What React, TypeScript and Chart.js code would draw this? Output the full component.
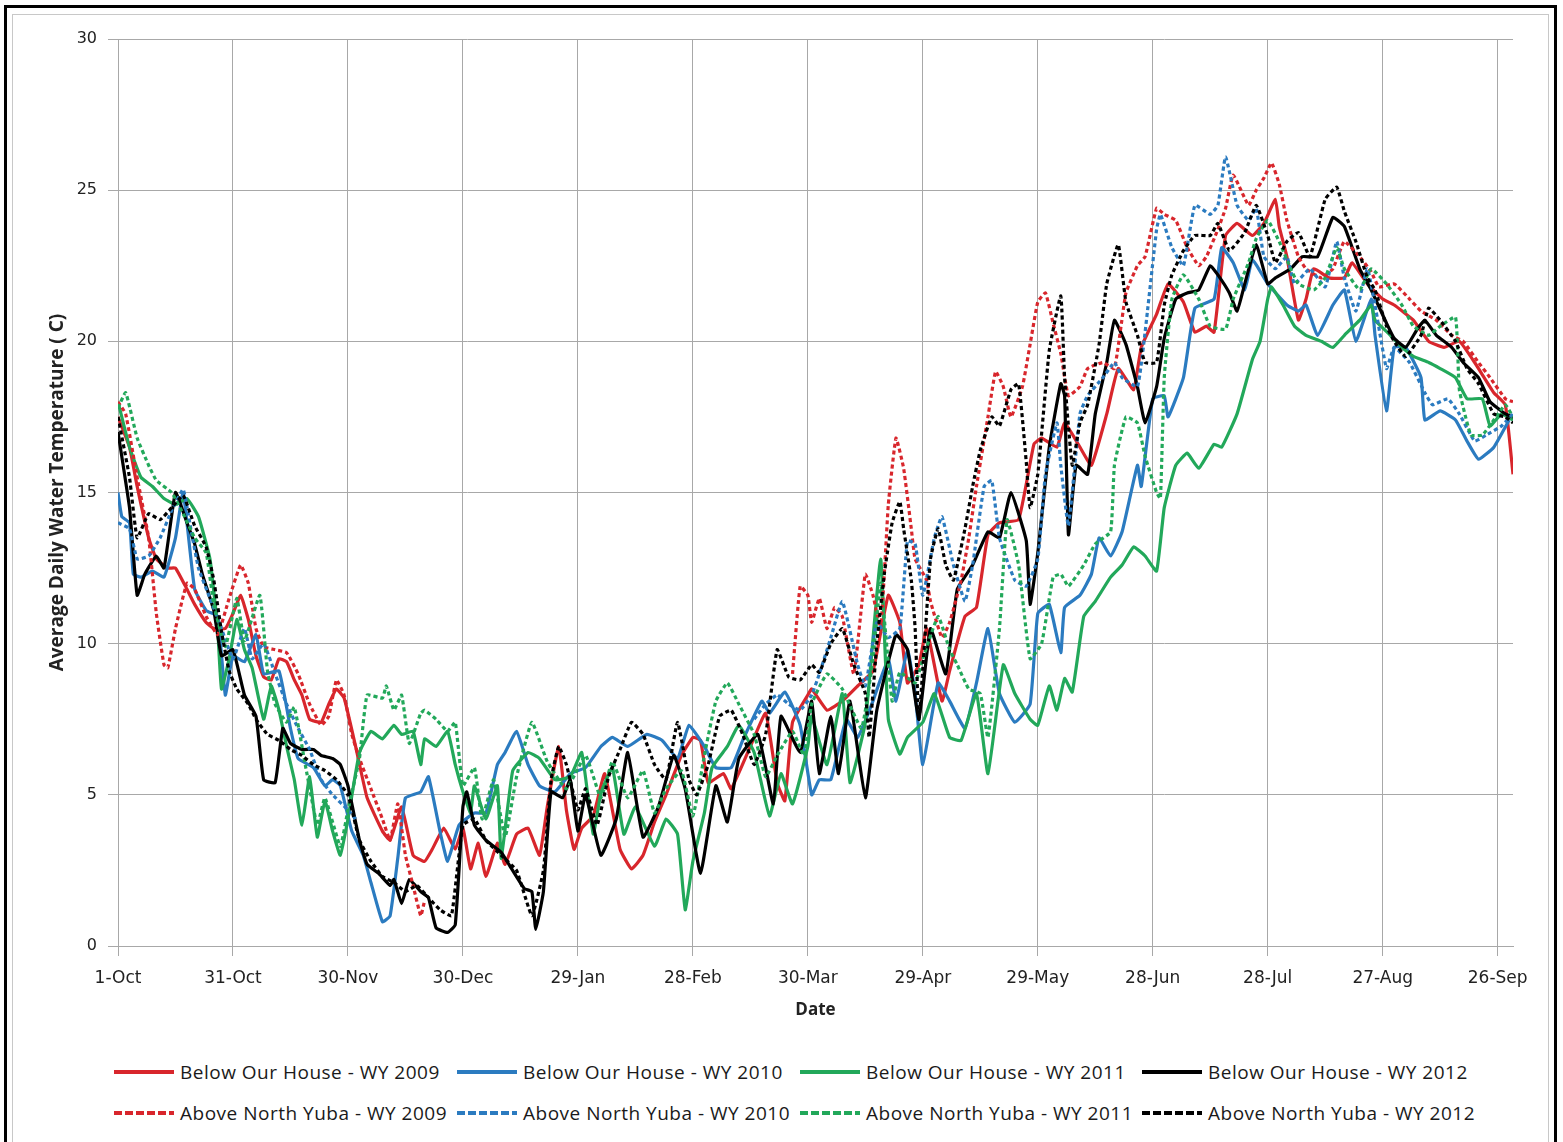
import React, { useEffect, useRef } from "react";
import { Chart, registerables } from "chart.js";

Chart.register(...registerables);

type P = [number, number | null];

const TICK_DAYS = [0, 30, 60, 90, 120, 150, 180, 210, 240, 270, 300, 330, 360];
const TICK_LABELS = ["1-Oct", "31-Oct", "30-Nov", "30-Dec", "29-Jan", "28-Feb", "30-Mar", "29-Apr", "29-May", "28-Jun", "28-Jul", "27-Aug", "26-Sep"];

const belowWY2009: P[] = [
  [0, 17.5], [3, 16.5], [5, 15.2], [8, 13.5], [10, 12.8], [13, 12.5], [15, 12.5], [18, 11.8], [20, 11.3], [23, 10.7], [25, 10.5], [28, 10.5], [30, 11.0], [32, 11.6], [34, 10.8], [36, 9.6], [38, 8.9], [40, 8.8], [42, 9.5], [44, 9.4], [46, 8.8], [48, 8.3], [50, 7.5], [53, 7.4], [55, 8.0], [57, 8.5], [59, 8.2], [62, 6.6], [65, 4.9], [69, 3.8], [71, 3.5], [74, 4.6], [77, 3.0], [80, 2.8], [82, 3.2], [85, 3.9], [88, 3.2], [90, 3.9], [92, 2.55], [94, 3.4], [96, 2.3], [99, 3.4], [101, 2.7], [104, 3.7], [107, 3.9], [110, 3.0], [112, 4.6], [115, 6.6], [117, 4.5], [119, 3.2], [121, 3.9], [124, 4.3], [127, 5.7], [131, 3.2], [134, 2.55], [137, 3.0], [140, 4.1], [143, 5.0], [147, 6.3], [150, 6.9], [152, 6.8], [154, 5.4], [158, 5.7], [160, 5.2], [165, 6.6], [169, 7.7], [172, 5.4], [174, 4.8], [176, 7.4], [180, 8.3], [181, 8.5], [185, 7.8], [189, 8.1], [193, 8.6], [197, 9.1], [201, 11.6], [204, 10.7], [206, 8.7], [209, 9.3], [211, 10.5], [215, 8.1], [217, 9.1], [221, 10.9], [224, 11.2], [227, 13.6], [230, 14.0], [235, 14.1], [239, 16.6], [241, 16.8], [245, 16.5], [247, 17.3], [251, 16.5], [254, 15.9], [258, 17.6], [261, 19.1], [265, 18.4], [267, 19.8], [271, 20.9], [274, 21.9], [278, 21.3], [281, 20.3], [284, 20.5], [286, 20.3], [289, 23.5], [292, 23.9], [296, 23.5], [299, 23.9], [302, 24.7], [303, 23.8], [305, 22.8], [308, 20.7], [310, 21.4], [312, 22.4], [316, 22.1], [320, 22.1], [322, 22.6], [326, 21.9], [330, 21.4], [333, 21.2], [338, 20.7], [342, 20.0], [346, 19.8], [350, 20.0], [354, 19.3], [359, 18.3], [362, 17.9], [364, 15.6],
];

const belowWY2010: P[] = [
  [0, 15.0], [1, 14.2], [3, 14.0], [4, 12.3], [6, 12.2], [9, 12.4], [12, 12.2], [15, 13.5], [17, 15.0], [20, 11.8], [23, 11.1], [26, 10.9], [28, 8.3], [30, 9.6], [33, 9.4], [36, 10.3], [38, 9.0], [42, 9.1], [45, 7.2], [47, 6.2], [51, 5.9], [54, 5.3], [56, 5.5], [58, 5.3], [61, 3.8], [64, 3.0], [66, 2.1], [69, 0.8], [71, 1.0], [73, 2.9], [75, 4.9], [79, 5.1], [81, 5.6], [84, 3.8], [86, 2.8], [89, 4.0], [93, 4.4], [96, 4.4], [99, 6.0], [101, 6.4], [104, 7.1], [107, 6.0], [110, 5.3], [114, 5.1], [118, 5.7], [122, 5.9], [126, 6.6], [129, 6.9], [133, 6.6], [138, 7.0], [142, 6.8], [146, 6.2], [149, 7.3], [153, 6.6], [156, 5.9], [160, 5.9], [163, 6.8], [168, 8.1], [170, 7.7], [174, 8.4], [178, 7.3], [181, 5.0], [183, 5.5], [186, 5.5], [190, 7.5], [193, 6.9], [197, 8.1], [201, 9.5], [203, 8.1], [206, 9.8], [208, 8.35], [210, 6.0], [214, 8.7], [217, 8.1], [221, 7.2], [224, 8.7], [227, 10.5], [230, 8.35], [234, 7.4], [238, 8.0], [240, 11.0], [243, 11.3], [246, 9.7], [247, 11.2], [251, 11.6], [254, 12.3], [256, 13.5], [259, 12.9], [262, 13.7], [266, 15.9], [267, 15.2], [270, 18.1], [273, 18.2], [274, 17.5], [278, 18.8], [281, 21.1], [286, 21.4], [288, 23.1], [291, 22.6], [294, 21.7], [296, 22.7], [300, 21.9], [305, 21.2], [308, 21.0], [310, 21.2], [313, 20.2], [317, 21.2], [320, 21.7], [323, 20.0], [327, 21.4], [328, 20.2], [331, 17.7], [333, 19.8], [336, 19.8], [340, 18.8], [341, 17.4], [345, 17.7], [349, 17.4], [352, 16.7], [355, 16.1], [359, 16.5], [363, 17.4],
];

const belowWY2011: P[] = [
  [0, 18.0], [3, 16.5], [6, 15.5], [9, 15.2], [12, 14.8], [15, 14.6], [18, 14.8], [21, 14.2], [24, 12.8], [26, 10.5], [27, 8.5], [29, 9.5], [31, 10.8], [33, 9.8], [35, 9.2], [38, 7.5], [40, 8.6], [42, 7.8], [44, 6.6], [46, 5.5], [48, 4.0], [50, 5.6], [52, 3.6], [54, 4.8], [56, 3.8], [58, 3.0], [60, 4.2], [63, 6.4], [66, 7.1], [69, 6.85], [72, 7.3], [74, 7.0], [77, 7.1], [79, 6.0], [80, 6.85], [83, 6.6], [86, 7.1], [88, 6.0], [90, 5.1], [92, 4.4], [93, 5.3], [96, 4.2], [99, 5.3], [100, 2.9], [103, 5.8], [107, 6.4], [110, 6.2], [114, 5.5], [118, 5.6], [121, 6.4], [124, 3.7], [126, 5.05], [129, 5.9], [132, 3.7], [135, 4.6], [140, 3.3], [143, 4.2], [146, 3.7], [148, 1.2], [150, 2.8], [153, 4.4], [155, 5.9], [159, 6.6], [162, 7.3], [166, 6.4], [170, 4.3], [173, 5.7], [176, 4.7], [180, 6.6], [181, 7.6], [185, 6.0], [189, 8.35], [191, 5.4], [195, 7.4], [199, 12.8], [201, 7.5], [204, 6.35], [206, 6.9], [210, 7.4], [213, 8.35], [217, 6.9], [220, 6.8], [224, 8.35], [227, 5.7], [231, 9.3], [234, 8.35], [238, 7.5], [240, 7.3], [243, 8.6], [245, 7.8], [247, 8.85], [249, 8.4], [252, 10.9], [255, 11.4], [259, 12.2], [262, 12.6], [265, 13.2], [268, 12.9], [271, 12.4], [273, 14.5], [276, 15.9], [279, 16.3], [282, 15.8], [286, 16.6], [288, 16.5], [292, 17.6], [296, 19.4], [298, 20.0], [300, 21.4], [301, 21.8], [304, 21.2], [307, 20.5], [310, 20.2], [314, 20.0], [317, 19.8], [320, 20.2], [324, 20.7], [327, 21.2], [328, 20.7], [332, 20.2], [335, 19.8], [338, 19.5], [342, 19.3], [345, 19.1], [349, 18.8], [352, 18.1], [356, 18.1], [358, 17.2], [361, 17.6], [364, 17.4],
];

const belowWY2012: P[] = [
  [0, 17.0], [3, 14.5], [5, 11.6], [7, 12.3], [10, 12.9], [12, 12.5], [15, 15.0], [18, 14.0], [20, 13.3], [22, 12.3], [25, 11.1], [27, 9.6], [30, 9.8], [33, 8.3], [36, 7.6], [38, 5.5], [41, 5.4], [43, 7.2], [45, 6.7], [48, 6.5], [51, 6.5], [53, 6.3], [56, 6.2], [58, 6.0], [60, 5.3], [63, 3.5], [65, 2.7], [68, 2.4], [71, 2.0], [72, 2.2], [74, 1.4], [76, 2.2], [79, 1.8], [81, 1.6], [83, 0.6], [86, 0.45], [88, 0.7], [90, 4.6], [91, 5.1], [93, 4.0], [96, 3.5], [100, 3.1], [102, 2.7], [106, 1.9], [108, 1.8], [109, 0.55], [111, 1.8], [113, 5.1], [116, 4.9], [118, 5.5], [120, 3.8], [122, 5.0], [126, 3.0], [130, 4.2], [133, 6.4], [137, 3.6], [141, 4.6], [145, 6.3], [148, 5.2], [152, 2.4], [156, 5.3], [159, 4.1], [162, 6.2], [167, 7.0], [171, 4.7], [173, 7.6], [178, 6.4], [181, 8.1], [183, 5.7], [186, 7.6], [188, 5.7], [191, 8.1], [195, 4.9], [198, 7.8], [203, 10.3], [206, 9.8], [209, 7.5], [212, 10.5], [216, 9.0], [219, 11.8], [223, 12.6], [227, 13.7], [230, 13.5], [233, 15.0], [237, 13.4], [238, 11.3], [240, 13.0], [243, 16.5], [246, 18.6], [247, 18.2], [248, 13.6], [250, 15.9], [253, 15.6], [255, 17.6], [258, 19.3], [260, 20.7], [263, 19.9], [266, 18.5], [268, 17.3], [271, 18.5], [273, 20.1], [276, 21.4], [279, 21.6], [282, 21.7], [285, 22.5], [287, 22.2], [290, 21.6], [292, 21.0], [294, 21.9], [297, 23.2], [300, 21.9], [302, 22.1], [306, 22.4], [309, 22.8], [313, 22.8], [317, 24.1], [320, 23.8], [324, 22.4], [327, 21.7], [331, 20.6], [333, 20.1], [336, 19.8], [339, 20.4], [341, 20.7], [344, 20.2], [348, 19.8], [351, 19.3], [355, 18.8], [358, 18.0], [362, 17.6], [364, 17.5],
];

const aboveWY2009: P[] = [
  [0, 18.0], [2, 17.6], [5, 15.5], [8, 13.5], [10, 11.0], [12, 9.3], [13, 9.2], [15, 10.5], [18, 12.0], [20, 11.8], [23, 10.9], [26, 10.3], [29, 11.5], [32, 12.6], [34, 12.0], [36, 10.5], [38, 9.9], [41, 9.8], [44, 9.7], [47, 9.0], [50, 8.0], [53, 7.3], [55, 7.6], [57, 8.8], [59, 8.3], [61, 7.0], [63, 6.2], [66, 5.2], [69, 4.2], [71, 3.5], [73, 4.7], [75, 3.0], [77, 2.0], [79, 1.0], [80, 1.5], [120, null],
  [176, 9.0], [178, 11.9], [180, 11.6], [181, 10.7], [183, 11.5], [185, 10.5], [187, 11.2], [189, 10.9], [192, 9.0], [195, 12.3], [197, 11.6], [199, 10.5], [201, 14.6], [203, 16.8], [205, 15.8], [207, 13.8], [208, 12.8], [211, 12.1], [212, 11.4], [215, 10.2], [217, 10.7], [220, 12.1], [222, 13.5], [224, 15.2], [227, 17.5], [229, 19.0], [231, 18.5], [233, 17.5], [236, 18.5], [238, 19.9], [240, 21.3], [242, 21.6], [244, 20.6], [246, 19.6], [248, 18.2], [251, 18.5], [253, 19.1], [257, 19.3], [260, 19.1], [263, 21.6], [266, 22.5], [268, 22.8], [271, 24.4], [273, 24.2], [276, 24.0], [279, 23.1], [282, 22.5], [284, 22.8], [287, 23.7], [289, 24.4], [291, 25.5], [295, 24.5], [297, 25.0], [299, 25.4], [301, 25.9], [303, 25.2], [305, 24.0], [308, 22.8], [310, 22.4], [314, 22.1], [317, 22.4], [320, 23.3], [324, 22.8], [327, 22.3], [329, 21.8], [333, 21.9], [337, 21.4], [340, 21.0], [344, 20.7], [348, 20.2], [351, 20.0], [355, 19.3], [358, 18.8], [362, 18.1], [364, 18.0],
];

const aboveWY2010: P[] = [
  [0, 14.0], [3, 13.8], [5, 12.8], [8, 12.9], [11, 13.5], [14, 14.4], [17, 15.1], [19, 13.8], [21, 12.5], [24, 11.5], [27, 10.5], [30, 9.5], [33, 10.5], [35, 9.5], [38, 10.0], [41, 9.0], [44, 8.0], [47, 7.2], [50, 6.5], [53, 5.5], [56, 5.0], [60, 4.5], [62, 4.2], [110, null],
  [166, 7.5], [169, 8.0], [172, 8.3], [175, 8.0], [178, 7.8], [181, 8.3], [183, 9.0], [186, 10.2], [189, 11.4], [193, 9.3], [195, 8.6], [198, 10.7], [201, 10.2], [204, 10.5], [206, 13.4], [208, 13.3], [210, 11.6], [213, 13.5], [215, 14.2], [218, 12.6], [221, 11.4], [223, 12.6], [226, 15.2], [228, 15.4], [230, 13.5], [234, 12.1], [237, 11.9], [240, 12.8], [242, 15.6], [245, 17.3], [246, 15.9], [248, 13.9], [251, 17.6], [253, 18.2], [257, 18.8], [260, 19.3], [262, 18.8], [266, 18.5], [268, 20.3], [271, 23.7], [272, 24.2], [275, 23.1], [278, 22.5], [281, 24.5], [285, 24.2], [287, 24.5], [289, 26.1], [292, 24.5], [295, 24.0], [297, 24.4], [299, 22.8], [302, 22.4], [305, 22.8], [307, 21.9], [311, 22.4], [315, 21.8], [318, 23.3], [320, 22.1], [323, 21.0], [326, 22.4], [328, 21.2], [331, 19.1], [333, 19.8], [337, 19.3], [341, 18.3], [343, 17.9], [347, 18.1], [350, 17.6], [354, 16.7], [357, 16.9], [361, 17.2], [364, 17.6],
];

const aboveWY2011: P[] = [
  [0, 17.8], [2, 18.3], [5, 16.8], [8, 15.9], [10, 15.4], [14, 15.0], [17, 14.3], [20, 13.5], [23, 13.0], [25, 11.3], [28, 9.9], [31, 11.5], [33, 10.1], [37, 11.6], [39, 9.1], [41, 8.0], [44, 7.4], [46, 7.9], [49, 5.9], [52, 4.0], [54, 4.9], [58, 3.3], [60, 4.5], [63, 6.2], [65, 8.3], [69, 8.2], [70, 8.6], [72, 7.8], [74, 8.3], [76, 6.7], [79, 7.7], [80, 7.8], [83, 7.5], [86, 7.1], [88, 7.4], [90, 5.3], [93, 5.9], [95, 4.2], [98, 5.5], [101, 3.6], [104, 5.6], [108, 7.4], [112, 6.1], [117, 5.2], [122, 6.3], [126, 4.9], [129, 6.1], [133, 4.9], [137, 5.8], [140, 4.4], [143, 5.2], [147, 5.8], [150, 4.3], [153, 6.3], [156, 8.1], [159, 8.7], [162, 8.0], [166, 7.0], [169, 5.6], [172, 6.3], [176, 7.1], [179, 6.3], [181, 8.0], [185, 9.0], [189, 8.5], [194, 7.2], [197, 9.5], [199, 12.0], [202, 8.1], [204, 9.05], [208, 8.7], [210, 9.5], [214, 10.9], [217, 9.8], [219, 9.3], [222, 8.5], [225, 8.35], [227, 6.9], [230, 10.5], [232, 14.1], [235, 12.6], [238, 9.5], [241, 10.0], [244, 12.2], [246, 12.3], [248, 11.9], [252, 12.6], [255, 13.3], [259, 13.7], [260, 15.9], [263, 17.5], [266, 17.3], [268, 16.2], [271, 15.0], [272, 14.8], [273, 18.8], [275, 21.4], [278, 22.2], [282, 21.4], [285, 20.5], [289, 20.4], [291, 21.4], [295, 22.6], [297, 23.4], [300, 24.0], [303, 23.3], [306, 22.4], [308, 21.9], [312, 21.7], [315, 22.1], [318, 23.1], [320, 22.4], [324, 21.7], [327, 22.4], [331, 21.9], [335, 21.2], [338, 20.5], [342, 20.2], [345, 20.5], [349, 20.8], [350, 18.4], [353, 16.9], [356, 16.9], [359, 17.4], [362, 17.9], [364, 17.5],
];

const aboveWY2012: P[] = [
  [0, 17.5], [3, 15.5], [5, 13.5], [8, 14.3], [11, 14.1], [14, 14.5], [17, 14.9], [20, 13.9], [23, 13.2], [25, 12.1], [27, 10.4], [29, 9.1], [31, 8.5], [34, 8.0], [36, 7.5], [39, 7.0], [42, 6.8], [45, 6.5], [48, 6.3], [51, 6.0], [54, 5.8], [57, 5.5], [60, 5.0], [63, 3.5], [66, 2.8], [69, 2.3], [72, 2.1], [75, 1.8], [78, 2.0], [81, 1.6], [84, 1.2], [87, 1.0], [90, 4.0], [93, 4.2], [96, 3.5], [100, 3.0], [104, 2.5], [108, 1.0], [111, 2.5], [113, 5.5], [115, 6.6], [117, 6.0], [120, 4.5], [122, 5.2], [125, 4.0], [128, 5.6], [131, 6.5], [134, 7.4], [137, 7.0], [140, 6.0], [143, 5.5], [146, 7.4], [149, 5.5], [151, 5.0], [154, 6.0], [157, 7.6], [160, 7.8], [163, 7.0], [166, 6.0], [169, 7.0], [172, 9.8], [175, 8.9], [178, 8.8], [181, 9.3], [183, 9.05], [186, 10.0], [189, 10.5], [192, 9.3], [195, 8.35], [196, 6.9], [198, 10.0], [200, 12.35], [202, 14.0], [204, 14.7], [205, 13.8], [207, 12.1], [208, 10.5], [209, 7.5], [212, 12.8], [214, 13.8], [216, 12.6], [218, 12.1], [221, 13.8], [223, 15.2], [225, 16.4], [228, 17.5], [230, 17.2], [233, 18.4], [235, 18.6], [237, 16.0], [238, 14.5], [240, 15.6], [243, 19.7], [246, 21.5], [247, 18.8], [249, 15.9], [251, 17.3], [253, 17.9], [256, 19.9], [258, 21.9], [261, 23.2], [263, 21.3], [266, 20.2], [268, 19.3], [271, 19.3], [273, 21.2], [275, 22.2], [278, 23.0], [281, 23.5], [285, 23.5], [287, 23.9], [290, 23.0], [294, 23.6], [297, 24.5], [300, 23.5], [302, 22.6], [305, 23.3], [308, 23.6], [311, 22.8], [315, 24.7], [318, 25.1], [320, 24.3], [323, 23.3], [326, 22.1], [328, 21.7], [331, 20.5], [333, 20.0], [336, 19.5], [340, 20.2], [342, 21.1], [345, 20.7], [349, 20.0], [352, 19.1], [355, 18.6], [359, 17.6], [362, 17.5], [364, 17.3],
];

const RED = "#d8262c";
const BLUE = "#2b7bc0";
const GREEN = "#22a85a";
const BLACK = "#000000";

const SERIES = [
  { label: "Below Our House - WY 2009", data: belowWY2009, color: RED, dashed: false },
  { label: "Below Our House - WY 2010", data: belowWY2010, color: BLUE, dashed: false },
  { label: "Below Our House - WY 2011", data: belowWY2011, color: GREEN, dashed: false },
  { label: "Below Our House - WY 2012", data: belowWY2012, color: BLACK, dashed: false },
  { label: "Above North Yuba - WY 2009", data: aboveWY2009, color: RED, dashed: true },
  { label: "Above North Yuba - WY 2010", data: aboveWY2010, color: BLUE, dashed: true },
  { label: "Above North Yuba - WY 2011", data: aboveWY2011, color: GREEN, dashed: true },
  { label: "Above North Yuba - WY 2012", data: aboveWY2012, color: BLACK, dashed: true },
];

const LEGEND_COLS = [113, 456, 799, 1141];
const LEGEND_ROWS = [1072, 1113];

function Legend() {
  return (
    <>
      {SERIES.map((s, i) => {
        const col = LEGEND_COLS[i % 4];
        const row = LEGEND_ROWS[Math.floor(i / 4)];
        return (
          <div key={s.label} style={{ position: "absolute", left: col, top: row - 12, height: 24, display: "flex", alignItems: "center", whiteSpace: "nowrap" }}>
            <svg width={62} height={24} style={{ display: "block" }}>
              <line x1={1} y1={12} x2={61} y2={12} stroke={s.color} strokeWidth={4} strokeDasharray={s.dashed ? "8 3" : undefined} />
            </svg>
            <span style={{ marginLeft: 5, fontFamily: "'Open Sans', sans-serif", fontSize: 19, letterSpacing: 0.5, color: "#1a1a1a", lineHeight: "24px" }}>{s.label}</span>
          </div>
        );
      })}
    </>
  );
}

export default function App() {
  const ref = useRef<HTMLCanvasElement | null>(null);
  useEffect(() => {
    if (!ref.current) return;
    const datasets = SERIES.map((s, i) => ({
      label: s.label,
      data: s.data.map(([x, y]) => ({ x, y })),
      borderColor: s.color,
      backgroundColor: s.color,
      borderWidth: 3.2,
      borderDash: s.dashed ? [4, 3] : [],
      pointRadius: 0,
      tension: 0.12,
      spanGaps: false,
      fill: false,
      order: SERIES.length - i,
    }));
    const gridColor = "#a8a8a8";
    const chart = new Chart(ref.current, {
      type: "line",
      data: { datasets },
      options: {
        responsive: false,
        animation: false,
        layout: { padding: { left: 0, top: 39, right: 50, bottom: 0 } },
        plugins: { legend: { display: false }, tooltip: { enabled: false } },
        scales: {
          x: {
            type: "linear",
            min: 0,
            max: 364,
            afterBuildTicks: (scale: any) => {
              scale.ticks = TICK_DAYS.map((v) => ({ value: v }));
            },
            afterFit: (scale: any) => {
              scale.height = 94;
            },
            ticks: {
              autoSkip: false,
              maxRotation: 0,
              padding: 12,
              color: "#222",
              font: { family: "'DejaVu Sans', sans-serif", size: 17 },
              callback: (v: any) => {
                const idx = TICK_DAYS.indexOf(Number(v));
                return idx >= 0 ? TICK_LABELS[idx] : "";
              },
            },
            grid: { color: gridColor, lineWidth: 1, tickLength: 10, drawTicks: true },
            border: { color: gridColor, width: 1 },
            title: {
              display: true,
              text: "Date",
              color: "#222",
              font: { family: "'Open Sans', sans-serif", size: 17, weight: "bold" },
              padding: { top: 0, bottom: 20 },
            },
          },
          y: {
            type: "linear",
            min: 0,
            max: 30,
            afterFit: (scale: any) => {
              scale.width = 118;
            },
            ticks: {
              stepSize: 5,
              padding: 11,
              color: "#222",
              font: { family: "'DejaVu Sans', sans-serif", size: 16 },
            },
            grid: { color: gridColor, lineWidth: 1, tickLength: 10, drawTicks: true },
            border: { color: gridColor, width: 1 },
            title: {
              display: true,
              text: "Average Daily Water Temperature ( C)",
              color: "#222",
              font: { family: "'Open Sans', sans-serif", size: 19, weight: "bold" },
              padding: { top: 46, bottom: 0 },
            },
          },
        },
      },
    });
    return () => chart.destroy();
  }, []);

  return (
    <div style={{ position: "fixed", left: 0, top: 0, width: 1563, height: 1142, background: "#fff", overflow: "hidden" }}>
      <div style={{ position: "absolute", left: 4, top: 5, width: 1553, height: 1145, border: "3px solid #000", boxSizing: "border-box" }} />
      <div style={{ position: "absolute", left: 12, top: 14, width: 1537, height: 1140, border: "1px solid #c8c8c8", boxSizing: "border-box" }} />
      <canvas ref={ref} width={1563} height={1040} style={{ position: "absolute", left: 0, top: 0, width: 1563, height: 1040 }} />
      <Legend />
    </div>
  );
}
